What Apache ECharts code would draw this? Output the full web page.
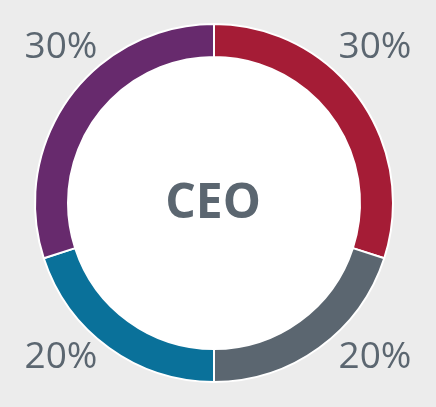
<!DOCTYPE html>
<html><head><meta charset="utf-8">
<script src="https://cdn.jsdelivr.net/npm/echarts@6/dist/echarts.min.js"></script>
<style>html,body{margin:0;padding:0;background:#ececec}#c{width:436px;height:407px}</style>
</head><body><div id="c"></div>
<script>
const categories = ['A', 'B', 'C', 'D'];
const values = [30, 20, 20, 30];
const colors = ['#a51c36', '#5b6670', '#0a719a', '#672a6d'];
const centerLabel = 'CEO';
const labelPos = [[375, 47], [375, 357], [61, 357], [61, 47]];

const chart = echarts.init(document.getElementById('c'), null, {renderer: 'canvas'});
const textColor = '#5b6670';
chart.setOption({
  backgroundColor: '#ececec',
  animation: false,
  series: [
    {
      type: 'pie', silent: true, center: [214, 203], radius: [0, 147],
      data: [{value: 1, itemStyle: {color: '#ffffff'}}],
      label: {show: false}, labelLine: {show: false}
    },
    {
      type: 'pie', center: [214, 203], radius: [146, 179], startAngle: 90, clockwise: true,
      avoidLabelOverlap: false,
      data: categories.map((c, i) => ({name: c, value: values[i], itemStyle: {color: colors[i]}})),
      itemStyle: {borderColor: '#ffffff', borderWidth: 2},
      label: {show: false}, labelLine: {show: false}
    }
  ],
  graphic: [{
    type: 'text', x: 213, y: 204, z: 100,
    style: {text: centerLabel, fill: textColor, fontFamily: 'Open Sans', fontWeight: 'bold', fontSize: 48, align: 'center', verticalAlign: 'middle'}
  }].concat(values.map((v, i) => ({
    type: 'text', x: labelPos[i][0], y: labelPos[i][1], z: 100,
    style: {text: v + '%', fill: textColor, fontFamily: 'Open Sans', fontSize: 37, align: 'center', verticalAlign: 'middle'}
  })))
});
</script></body></html>
